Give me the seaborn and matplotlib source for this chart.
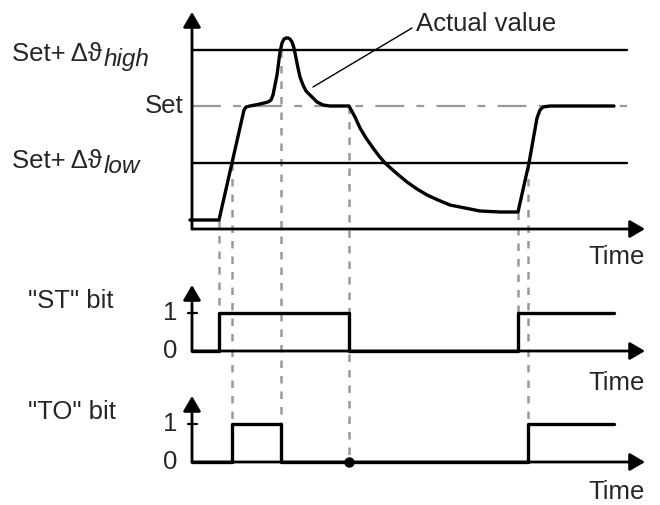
import seaborn as sns
import matplotlib.pyplot as plt
import pandas as pd

# actual value curve (time, value)
curve_t = [-2, 27, 52, 54, 58, 68, 76, 79, 81, 83, 85, 88, 90, 92, 94, 96, 98, 100, 102,
           104, 106, 108, 111, 114, 118, 125, 131, 138, 157, 163, 168, 174, 181, 187,
           193, 203, 215, 225, 235, 246, 258, 273, 288, 308, 326, 337, 345, 348, 351,
           358, 422]
curve_v = [9, 9, 119, 122, 123, 125, 127, 129, 134, 144, 154, 177, 186, 190, 191, 191,
           190, 187, 181, 171, 161, 152, 144, 138, 134, 127, 124, 123, 123, 112, 101,
           91, 81, 73, 66, 57, 47, 40, 34, 29, 24, 21, 18, 17, 17, 66, 111, 119, 122,
           123, 123]

# thresholds
level_high = 179
level_set = 123
level_low = 66

# status bits
st_t = [0, 27, 157, 326, 422]
st_v = [0, 1, 0, 1, 1]
to_t = [0, 40, 89, 336, 422]
to_v = [0, 1, 0, 1, 1]

# layout of the three traces (vertical offsets in figure units)
top_base = 276
st_base, to_base, bit_h = 154, 43, 38
t_end_line = 435
t_arrow = 453

sns.set_style("white")
plt.rcParams['font.family'] = ['Liberation Sans', 'DejaVu Sans']
fs = 18.5

fig = plt.figure(figsize=(6.6, 5.05), dpi=100)
ax = fig.add_axes([0, 0, 1, 1])
ax.set_xlim(-192, 468)
ax.set_ylim(0, 505)
ax.axis('off')


def arrow(x0, y0, x1, y1):
    ax.annotate("", xy=(x1, y1), xytext=(x0, y0),
                arrowprops=dict(arrowstyle="-|>,head_length=0.65,head_width=0.38",
                                lw=2, color='black', mutation_scale=14,
                                shrinkA=0, shrinkB=0), zorder=5)


# --- top trace ---
df = pd.DataFrame({'t': curve_t, 'v': [top_base + v for v in curve_v]})
sns.lineplot(data=df, x='t', y='v', ax=ax, color='black', lw=2.4, sort=False,
             estimator=None, zorder=4)
for lvl in [level_high, level_low]:
    ax.plot([0, t_end_line], [top_base + lvl] * 2, color='black', lw=1.7, zorder=3)
ax.plot([0, t_end_line], [top_base + level_set] * 2, color='#999999', lw=1.6,
        dashes=(13, 5.5, 3.5, 5.5), zorder=2)
arrow(0, top_base, 0, top_base + 217)
arrow(0, top_base, t_arrow, top_base)

lab = ax.text(-180, top_base + level_high - 11, "Set+\u2009\u0394\u03d1", fontsize=fs,
              va='baseline')
ax.annotate("high", xy=(1, 0), xycoords=lab, xytext=(1.5, -3.5), textcoords='offset points',
            fontsize=17.5, style='italic', ha='left', va='bottom')
ax.text(-9, top_base + level_set, "Set", fontsize=fs, ha='right', va='center')
lab = ax.text(-180, top_base + level_low - 5, "Set+\u2009\u0394\u03d1", fontsize=fs,
              va='baseline')
ax.annotate("low", xy=(1, 0), xycoords=lab, xytext=(1.5, -3.5), textcoords='offset points',
            fontsize=17.5, style='italic', ha='left', va='bottom')

ax.plot([121, 220], [top_base + 142, top_base + 201], color='black', lw=1)
ax.text(224, top_base + 205, "Actual value", fontsize=fs, ha='left', va='center')
ax.text(t_arrow, 248, "Time", fontsize=fs, ha='right', va='center')

# --- bit traces ---
for base, tt, vv, name, tlabel_y in [(st_base, st_t, st_v, '"ST" bit', 122),
                                      (to_base, to_t, to_v, '"TO" bit', 13)]:
    sdf = pd.DataFrame({'t': tt, 'v': [base + v * bit_h for v in vv]})
    sns.lineplot(data=sdf, x='t', y='v', ax=ax, color='black', lw=2.4, sort=False,
                 estimator=None, drawstyle='steps-post', zorder=4)
    arrow(0, base, 0, base + 66)
    arrow(0, base, t_arrow, base)
    ax.plot([-4, 5], [base + bit_h] * 2, color='black', lw=1.6)
    ax.text(-15, base + bit_h, "1", fontsize=fs, ha='right', va='center')
    ax.text(-15, base, "0", fontsize=fs, ha='right', va='center')
    ax.text(-164, base + bit_h + 12, name, fontsize=fs, ha='left', va='center')
    ax.text(t_arrow, tlabel_y, "Time", fontsize=fs, ha='right', va='center')

# --- dashed event lines ---
events = [(27, top_base + 9, st_base + bit_h),
          (40, top_base + level_low, to_base + bit_h),
          (89, top_base + level_high, to_base + bit_h),
          (157, top_base + level_set, to_base),
          (326, top_base + 17, st_base + bit_h),
          (336, top_base + level_low, to_base + bit_h)]
for t, y0, y1 in events:
    ax.plot([t, t], [y0, y1], color='#999999', lw=1.8, dashes=(3, 3.2), zorder=1)
ax.plot([157], [to_base], 'o', color='black', ms=6.5, zorder=6)

fig.savefig("out.png", dpi=100)
